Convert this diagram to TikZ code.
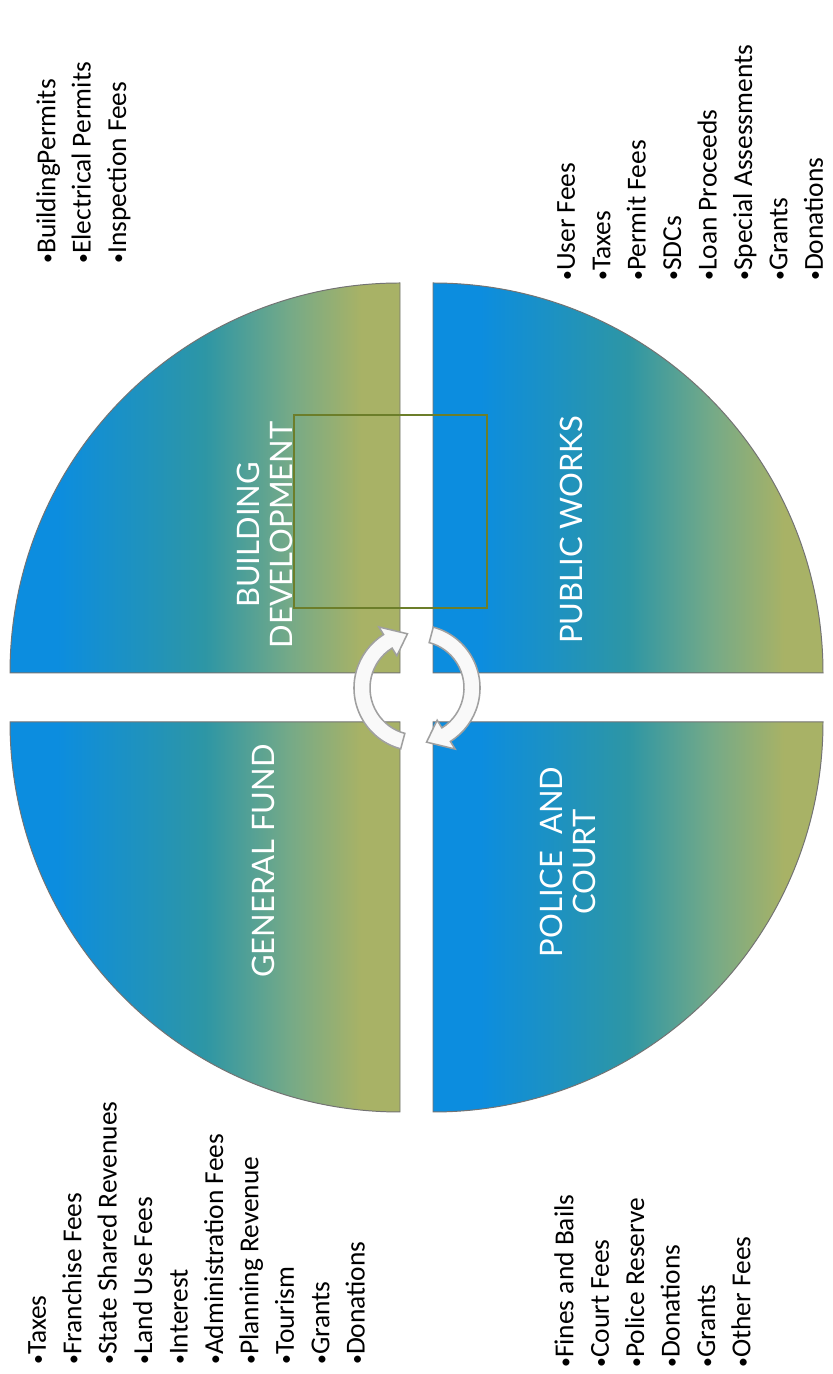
\documentclass[tikz,border=0pt]{standalone}
\usepackage{fontspec}
\setmainfont{Carlito}
\newfontfamily\labelfont{Lato}

\definecolor{qblue}{RGB}{12,141,223}
\definecolor{qteal}{RGB}{45,150,165}
\definecolor{qsage}{RGB}{118,170,135}
\definecolor{qolive}{RGB}{168,178,102}
\definecolor{frameolive}{RGB}{108,126,42}
\definecolor{arrowgray}{RGB}{160,160,160}

\pgfdeclarehorizontalshading{quadshade}{100bp}{color(0bp)=(qblue); color(25bp)=(qblue); color(31bp)=(qblue); color(50bp)=(qteal); color(61bp)=(qsage); color(70bp)=(qolive); color(100bp)=(qolive)}

% small list bullet
\newcommand{\bul}{\raisebox{1.2pt}{\fontsize{14}{14}\selectfont•}}

\begin{document}
\begin{tikzpicture}[
  x=0.25mm, y=0.25mm,
  quad/.style={shading=quadshade, draw=black!55, line width=0.7pt},
  quadlabel/.style={rotate=90, align=center, text=white, font=\labelfont\fontsize{22}{24}\selectfont},
  feelist/.style={rotate=90, align=left, anchor=north west, inner sep=0pt, font=\fontsize{19.5}{25.2}\selectfont},
  cyclearrow/.style={fill=white!95!gray, draw=arrowgray, line width=1.1pt}
]

\fill[white] (0,0) rectangle (833,1374);
\useasboundingbox (0,0) rectangle (833,1374);

% Quadrants
\shadedraw[quad] (400,701) -- (10,701) arc (180:90:390) -- cycle;
\shadedraw[quad] (433,701) -- (823,701) arc (0:90:390) -- cycle;
\shadedraw[quad] (400,652) -- (10,652) arc (180:270:390) -- cycle;
\shadedraw[quad] (433,652) -- (823,652) arc (0:-90:390) -- cycle;

% Frame across the top gap
\draw[frameolive, line width=1.8pt] (294,959) rectangle (487,766);

% Quadrant labels
\node[quadlabel] (build) at (265,839) {BUILDING\\DEVELOPMENT};
\node[quadlabel] (works) at (571,844) {PUBLIC WORKS};
\node[quadlabel] (general) at (263,513) {GENERAL FUND};
\node[quadlabel] (police) at (568,512) {POLICE\ \ AND\\COURT};

% Cycle arrows
\begin{scope}[shift={(417,686)}]
  \filldraw[cyclearrow] (255:63) arc (255:122:63) -- (122:72) -- (100:55) -- (122:38) -- (122:47) arc (122:255:47) -- cycle;
  \filldraw[cyclearrow] (75:63) arc (75:-58:63) -- (-58:72) -- (-80:55) -- (-58:38) -- (-58:47) arc (-58:75:47) -- cycle;
\end{scope}

% Revenue lists
\node[feelist] (buildlist) at (36,1110) {\bul BuildingPermits\\\bul Electrical Permits\\\bul Inspection Fees};
\node[feelist] (workslist) at (557,1093) {\bul User Fees\\\bul Taxes\\\bul Permit Fees\\\bul SDCs\\\bul Loan Proceeds\\\bul Special Assessments\\\bul Grants\\\bul Donations};
\node[feelist] (generallist) at (28,9) {\bul Taxes\\\bul Franchise Fees\\\bul State Shared Revenues\\\bul Land Use Fees\\\bul Interest\\\bul Administration Fees\\\bul Planning Revenue\\\bul Tourism\\\bul Grants\\\bul Donations};
\node[feelist] (policelist) at (554,6) {\bul Fines and Bails\\\bul Court Fees\\\bul Police Reserve\\\bul Donations\\\bul Grants\\\bul Other Fees};

\end{tikzpicture}
\end{document}
